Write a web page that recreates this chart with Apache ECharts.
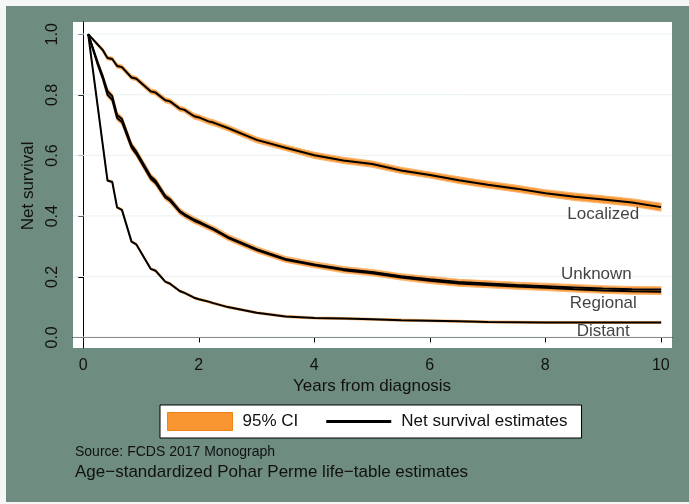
<!DOCTYPE html>
<html lang="en">
<head>
    <meta charset="UTF-8">
    <title>Net survival</title>
    <script src="https://cdn.jsdelivr.net/npm/echarts@6/dist/echarts.min.js"></script>
    <style>
        body { margin: 0; background: #f6f6f6; }
    </style>
</head>
<body>
 <div id="myChart" style="width: 689px;height: 504px;"></div>
 <script>
     // years since diagnosis (shared by all curves)
     var times = [0.083, 0.25, 0.333, 0.417, 0.5, 0.583, 0.667, 0.833, 0.917, 1.167, 1.25, 1.417, 1.5, 1.667, 1.75,
         1.917, 2.0, 2.167, 2.25, 2.5, 3.0, 3.5, 4.0, 4.5, 5.0, 5.5, 6.0, 6.5, 7.0, 7.5, 8.0, 8.5, 9.0, 9.5, 10.0];

     // net survival estimates
     var localized = [1.0, 0.965, 0.948, 0.921, 0.918, 0.895, 0.891, 0.857, 0.853, 0.811, 0.807, 0.782, 0.778, 0.754, 0.750,
         0.729, 0.725, 0.712, 0.708, 0.690, 0.651, 0.625, 0.600, 0.583, 0.571, 0.550, 0.535, 0.518, 0.503, 0.490, 0.475, 0.463, 0.454, 0.444, 0.429];
     var unknown = [1.0, 0.905, 0.862, 0.812, 0.795, 0.733, 0.720, 0.634, 0.612, 0.530, 0.516, 0.466, 0.455, 0.417, 0.406,
         0.388, 0.381, 0.365, 0.358, 0.331, 0.290, 0.258, 0.240, 0.225, 0.215, 0.201, 0.191, 0.182, 0.177, 0.172, 0.168, 0.164, 0.160, 0.158, 0.157];
     var regional = [1.0, 0.899, 0.855, 0.800, 0.783, 0.723, 0.710, 0.626, 0.604, 0.523, 0.509, 0.461, 0.450, 0.413, 0.402,
         0.384, 0.377, 0.362, 0.355, 0.328, 0.287, 0.255, 0.237, 0.221, 0.211, 0.197, 0.186, 0.177, 0.172, 0.167, 0.163, 0.158, 0.154, 0.151, 0.150];
     var distant = [1.0, 0.758, 0.638, 0.517, 0.512, 0.428, 0.420, 0.315, 0.306, 0.225, 0.219, 0.183, 0.176, 0.152, 0.146,
         0.130, 0.125, 0.117, 0.112, 0.099, 0.080, 0.068, 0.063, 0.061, 0.059, 0.056, 0.054, 0.052, 0.050, 0.049, 0.048, 0.048, 0.048, 0.048, 0.048];

     // half width of the 95% CI
     var ciLocalized = [0, 0.004, 0.005, 0.006, 0.006, 0.007, 0.007, 0.007, 0.007, 0.008, 0.008, 0.008, 0.008, 0.008, 0.008,
         0.009, 0.009, 0.009, 0.009, 0.009, 0.009, 0.009, 0.010, 0.010, 0.010, 0.010, 0.010, 0.011, 0.011, 0.011, 0.011, 0.012, 0.012, 0.012, 0.013];
     var ciUnknown = [0, 0.005, 0.006, 0.007, 0.007, 0.008, 0.008, 0.008, 0.008, 0.008, 0.008, 0.008, 0.008, 0.008, 0.008,
         0.008, 0.008, 0.008, 0.008, 0.008, 0.008, 0.008, 0.008, 0.008, 0.008, 0.008, 0.009, 0.009, 0.009, 0.009, 0.009, 0.009, 0.009, 0.009, 0.009];
     var ciRegional = [0, 0.005, 0.006, 0.007, 0.007, 0.008, 0.008, 0.008, 0.008, 0.008, 0.008, 0.008, 0.008, 0.008, 0.008,
         0.008, 0.008, 0.008, 0.008, 0.008, 0.008, 0.008, 0.008, 0.008, 0.008, 0.008, 0.009, 0.009, 0.009, 0.009, 0.009, 0.009, 0.009, 0.009, 0.009];
     var ciDistant = [0, 0.003, 0.003, 0.003, 0.003, 0.003, 0.003, 0.003, 0.003, 0.003, 0.003, 0.003, 0.003, 0.003, 0.003,
         0.003, 0.003, 0.003, 0.003, 0.003, 0.003, 0.003, 0.003, 0.003, 0.003, 0.003, 0.003, 0.003, 0.003, 0.003, 0.003, 0.003, 0.003, 0.003, 0.003];

     // curve labels inside the plot
     var labelNames = ['Localized', 'Unknown', 'Regional', 'Distant'];
     var labelX = [9.0, 8.88, 9.0, 9.0];
     var labelY = [0.404, 0.208, 0.113, 0.019];

     var yTicks = [0, 0.2, 0.4, 0.6, 0.8, 1.0];

     var curves = [
         {est: localized, ci: ciLocalized},
         {est: unknown, ci: ciUnknown},
         {est: regional, ci: ciRegional},
         {est: distant, ci: ciDistant}
     ];

     var ciColor = '#f99631';
     var font = '"Liberation Sans", Arial, sans-serif';

     function pairs(est) {
         return times.map(function (t, k) { return [t, est[k]]; });
     }

     var lineSeries = curves.map(function (c) {
         return {
             name: 'Net survival estimates',
             type: 'line',
             xAxisIndex: 0, yAxisIndex: 0,
             symbol: 'none',
             z: 4,
             lineStyle: {color: '#000', width: 2},
             data: pairs(c.est)
         };
     });

     option = {
         backgroundColor: '#f6f6f6',
         animation: false,
         textStyle: {fontFamily: font},
         graphic: [
             {type: 'rect', z: -5, shape: {x: 6, y: 6, width: 683, height: 496}, style: {fill: '#6f8c80'}},
             {type: 'text', left: 75, top: 445, style: {text: 'Source: FCDS 2017 Monograph', font: '14px ' + font, fill: '#111'}},
             {type: 'text', left: 75, top: 464, style: {text: 'Age−standardized Pohar Perme life−table estimates', font: '17px ' + font, fill: '#111'}}
         ],
         grid: [
             {left: 73, top: 22, width: 599, height: 326, show: true, backgroundColor: '#fff', borderWidth: 0},
             {left: 83.3, top: 34.3, width: 577.5, height: 303.2, show: false}
         ],
         legend: {
             left: 160, top: 405,
             padding: [7, 14, 7, 7],
             itemGap: 28,
             itemWidth: 65, itemHeight: 18,
             backgroundColor: '#fff',
             borderColor: '#000', borderWidth: 1,
             selectedMode: false,
             textStyle: {fontSize: 17, color: '#111', fontFamily: font, padding: [0, 0, 0, 5]},
             data: [
                 {name: '95% CI', icon: 'rect', itemStyle: {color: ciColor, borderColor: '#ee8418', borderWidth: 1}},
                 {name: 'Net survival estimates', icon: 'path://M0 0H65V3H0Z', itemStyle: {color: '#000', borderWidth: 0}}
             ]
         },
         xAxis: [
             {
                 gridIndex: 0, type: 'value', min: -0.18, max: 10.19,
                 axisLine: {show: true, lineStyle: {color: '#000', width: 1}},
                 axisTick: {show: false}, axisLabel: {show: false}, splitLine: {show: false}
             },
             {
                 gridIndex: 1, type: 'value', min: 0, max: 10, interval: 2, offset: 10.6,
                 axisLine: {show: false},
                 axisTick: {show: true, length: 5, lineStyle: {color: '#000'}},
                 axisLabel: {fontSize: 16, color: '#111', margin: 9},
                 splitLine: {show: false},
                 name: 'Years from diagnosis', nameLocation: 'middle', nameGap: 27,
                 nameTextStyle: {fontSize: 17, color: '#111'}
             }
         ],
         yAxis: [
             {
                 gridIndex: 0, type: 'value', min: -0.036, max: 1.04,
                 axisLine: {show: true, lineStyle: {color: '#000', width: 1}},
                 axisTick: {show: false}, axisLabel: {show: false}, splitLine: {show: false}
             },
             {
                 gridIndex: 1, type: 'value', min: 0, max: 1, interval: 0.2, offset: 10.3,
                 axisLine: {show: false},
                 axisTick: {show: true, length: 5, lineStyle: {color: '#000'}},
                 axisLabel: {fontSize: 16, color: '#111', rotate: 90, margin: 12,
                     formatter: function (v) { return v.toFixed(1); }},
                 splitLine: {show: false},
                 name: 'Net survival', nameLocation: 'middle', nameGap: 25,
                 nameTextStyle: {fontSize: 17, color: '#111'}
             }
         ],
         series: [
             {
                 // light horizontal grid lines across the whole plot region
                 name: 'grid', type: 'custom', xAxisIndex: 0, yAxisIndex: 0, z: 1, silent: true,
                 data: yTicks.map(function (v) { return [0, v]; }),
                 renderItem: function (params, api) {
                     var cs = params.coordSys;
                     var y = api.coord([0, api.value(1)])[1];
                     return {type: 'line', shape: {x1: cs.x, y1: y, x2: cs.x + cs.width, y2: y},
                         style: {stroke: '#eaf2f3', lineWidth: 1}};
                 }
             },
             {
                 name: '95% CI', type: 'custom', xAxisIndex: 0, yAxisIndex: 0, z: 2, silent: true,
                 data: curves.map(function (c, i) { return [i, 0.5]; }),
                 renderItem: function (params, api) {
                     var c = curves[params.dataIndex];
                     var up = times.map(function (t, k) { return api.coord([t, c.est[k] + c.ci[k]]); });
                     var lo = times.map(function (t, k) { return api.coord([t, c.est[k] - c.ci[k]]); }).reverse();
                     return {type: 'polygon', shape: {points: up.concat(lo)},
                         style: {fill: ciColor, stroke: '#fbb46e', lineWidth: 1.2}};
                 }
             }
         ].concat(lineSeries).concat([
             {
                 name: 'labels', type: 'scatter', xAxisIndex: 0, yAxisIndex: 0, z: 5, silent: true,
                 symbolSize: 0,
                 label: {show: true, position: 'inside', fontSize: 17, color: '#111',
                     formatter: function (p) { return p.name; }},
                 data: labelNames.map(function (n, i) { return {name: n, value: [labelX[i], labelY[i]]}; })
             }
         ])
     };

     var myChart = echarts.init(document.getElementById('myChart'));
     myChart.setOption(option);
 </script>
</body>
</html>
